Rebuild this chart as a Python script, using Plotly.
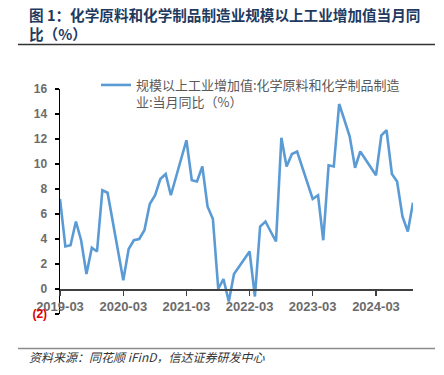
import plotly.graph_objects as go

months = [
    "2019-03", "2019-04", "2019-05", "2019-06", "2019-07", "2019-08", "2019-09", "2019-10", "2019-11", "2019-12",
    "2020-03", "2020-04", "2020-05", "2020-06", "2020-07", "2020-08", "2020-09", "2020-10", "2020-11", "2020-12",
    "2021-03", "2021-04", "2021-05", "2021-06", "2021-07", "2021-08", "2021-09", "2021-10", "2021-11", "2021-12",
    "2022-03", "2022-04", "2022-05", "2022-06", "2022-07", "2022-08", "2022-09", "2022-10", "2022-11", "2022-12",
    "2023-03", "2023-04", "2023-05", "2023-06", "2023-07", "2023-08", "2023-09", "2023-10", "2023-11", "2023-12",
    "2024-03", "2024-04", "2024-05", "2024-06", "2024-07", "2024-08", "2024-09", "2024-10",
]
values = [
    7.2, 3.4, 3.5, 5.4, 3.9, 1.2, 3.3, 3.0, 7.9, 7.7,
    0.7, 3.2, 3.9, 4.0, 4.7, 6.8, 7.5, 8.8, 9.2, 7.5,
    11.9, 8.7, 8.6, 9.8, 6.6, 5.6, 0.0, 0.8, -1.0, 1.2,
    3.0, -0.6, 5.0, 5.4, 4.6, 3.8, 12.1, 9.8, 10.8, 11.0,
    7.2, 7.5, 3.9, 9.9, 9.8, 14.8, 13.5, 12.2, 9.7, 11.0,
    9.1, 12.3, 12.7, 9.2, 8.6, 5.8, 4.6, 6.9,
]
y_tickvals = [-2, 0, 2, 4, 6, 8, 10, 12, 14, 16]
y_ticktext = ['<span style="color:#e00000">(2)</span>', "0", "2", "4", "6", "8", "10", "12", "14", "16"]

series_name = "规模以上工业增加值:化学原料和化学制品制造<br>业:当月同比（%）"
title_lines = ["图 1：化学原料和化学制品制造业规模以上工业增加值当月同", "比（%）"]
source_text = "资料来源：同花顺 iFinD，信达证券研发中心"

W, H = 444, 375
L, R, T, B = 60, 31, 89, 61
pw, ph = W - L - R, H - T - B


def px(x):
    return (x - L) / pw


def py(y):
    return (H - B - y) / ph


dates = [m + "-01" for m in months]

fig = go.Figure()
fig.add_trace(go.Scatter(
    x=dates, y=values, mode="lines", name=series_name,
    line=dict(color="#5B9BD5", width=2.6),
))

gray = "#6b6b6b"
fig.update_layout(
    width=W, height=H,
    margin=dict(l=L, r=R, t=T, b=B, autoexpand=False),
    paper_bgcolor="white", plot_bgcolor="white",
    showlegend=True,
    legend=dict(
        x=px(96), y=py(70), xanchor="left", yanchor="top",
        bgcolor="rgba(0,0,0,0)", valign="top",
        font=dict(family="Noto Sans CJK SC", size=13, color="#595959"),
        itemwidth=30,
    ),
    xaxis=dict(
        type="date",
        range=["2019-03-01", "2024-10-01"],
        anchor="free", position=2 / 18,
        showline=True, linecolor="#404040", linewidth=1.5,
        ticks="outside", ticklen=5, tickcolor="#404040", tickwidth=1.5,
        tick0="2019-03-01", dtick="M12", tickformat="%Y-%m",
        tickfont=dict(family="Liberation Sans, Arial", size=13, color=gray, weight="bold"),
        showgrid=False, zeroline=False,
    ),
    yaxis=dict(
        range=[-2, 16],
        tickvals=y_tickvals, ticktext=y_ticktext,
        showline=True, linecolor="black", linewidth=1.5,
        ticks="outside", ticklen=4, tickcolor="black", tickwidth=1.5,
        ticklabelstandoff=5,
        tickfont=dict(family="Liberation Sans, Arial", size=12, color=gray, weight="bold"),
        showgrid=False, zeroline=False,
    ),
)

# title
for i, line in enumerate(title_lines):
    fig.add_annotation(
        xref="paper", yref="paper", x=px(27), y=py(14 + 19.5 * i),
        xanchor="left", yanchor="middle", showarrow=False,
        text="<b>" + line + "</b>",
        font=dict(family="Noto Sans CJK SC", size=14.6, color="#1f3a5f"),
    )

fig.add_shape(type="line", xref="paper", yref="paper",
              x0=px(18), x1=px(435), y0=py(44.5), y1=py(44.5),
              line=dict(color="#333333", width=1.5))
fig.add_shape(type="line", xref="paper", yref="paper",
              x0=px(18), x1=px(435), y0=py(348.5), y1=py(348.5),
              line=dict(color="#8c8c8c", width=1.5))

fig.add_annotation(
    xref="paper", yref="paper", x=px(27), y=py(356.5),
    xanchor="left", yanchor="middle", showarrow=False,
    text="<i>" + source_text + "</i>",
    font=dict(family="Noto Sans CJK SC", size=12, color="#333333"),
)

fig.write_html(
    "out.html",
    config={"displayModeBar": False, "staticPlot": True},
    post_script="document.body.style.margin='0';document.body.style.overflow='hidden';",
)
